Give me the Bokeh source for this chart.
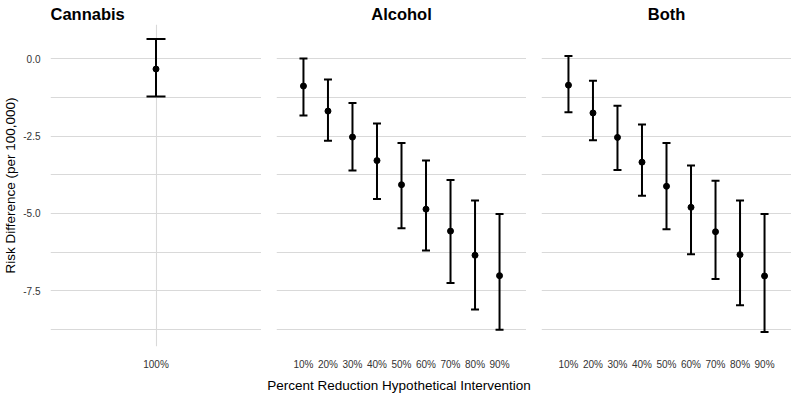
from bokeh.plotting import figure
from bokeh.layouts import row, column
from bokeh.models import (FactorRange, Range1d, FixedTicker, NumeralTickFormatter,
                          Whisker, TeeHead, ColumnDataSource, Div)
from bokeh.embed import file_html
from bokeh.resources import INLINE

# ---------------- data ----------------
cannabis_cats = ["100%"]
cannabis_est = [-0.33]
cannabis_lo = [-1.22]
cannabis_hi = [0.64]

pct_cats = ["10%", "20%", "30%", "40%", "50%", "60%", "70%", "80%", "90%"]
alcohol_est = [-0.88, -1.69, -2.53, -3.29, -4.07, -4.86, -5.57, -6.35, -7.01]
alcohol_lo = [-1.83, -2.65, -3.61, -4.53, -5.48, -6.20, -7.25, -8.10, -8.76]
alcohol_hi = [0.01, -0.67, -1.43, -2.09, -2.72, -3.29, -3.92, -4.58, -5.02]

both_est = [-0.85, -1.75, -2.54, -3.34, -4.12, -4.80, -5.59, -6.33, -7.02]
both_lo = [-1.73, -2.63, -3.59, -4.43, -5.51, -6.32, -7.12, -7.97, -8.83]
both_hi = [0.09, -0.71, -1.52, -2.12, -2.72, -3.45, -3.94, -4.58, -5.02]

y_ticks = [0, -2.5, -5, -7.5]
y_minor = [-1.25, -3.75, -6.25, -8.75]
Y_MIN, Y_MAX = -9.30, 1.11

x_title = "Percent Reduction Hypothetical Intervention"
y_title = "Risk Difference (per 100,000)"

FONT = "Liberation Sans"
GRID = "#d9d9d9"
FRAME_H = 322


def panel(title, cats, est, lo, hi, frame_w, align, cap, show_y,
          border_left, xgrid):
    p = figure(x_range=FactorRange(factors=cats, range_padding=0.6,
                                   range_padding_units="absolute"),
               y_range=Range1d(Y_MIN, Y_MAX),
               frame_width=frame_w, frame_height=FRAME_H,
               output_backend="svg", toolbar_location=None,
               y_axis_location="left" if show_y else None,
               min_border_left=border_left, min_border_right=0,
               min_border_top=0, min_border_bottom=0,
               title=title)
    p.outline_line_color = None
    p.background_fill_color = "white"
    p.border_fill_color = "white"

    p.title.text_font = FONT
    p.title.text_font_size = "16.5px"
    p.title.text_font_style = "bold"
    p.title.text_color = "black"
    p.title.align = align
    p.title.offset = 0
    p.title.standoff = 4

    p.ygrid.ticker = FixedTicker(ticks=y_ticks, minor_ticks=y_minor)
    p.ygrid.grid_line_color = GRID
    p.ygrid.grid_line_width = 1.1
    p.ygrid.minor_grid_line_color = GRID
    p.ygrid.minor_grid_line_width = 1.1
    p.xgrid.grid_line_color = GRID if xgrid else None
    p.xgrid.grid_line_width = 1.1

    p.xaxis.axis_line_color = None
    p.xaxis.major_tick_line_color = None
    p.xaxis.minor_tick_line_color = None
    p.xaxis.major_label_text_font = FONT
    p.xaxis.major_label_text_font_size = "10px"
    p.xaxis.major_label_text_color = "#333333"
    p.xaxis.major_label_standoff = 6

    if show_y:
        p.yaxis.ticker = FixedTicker(ticks=y_ticks)
        p.yaxis.formatter = NumeralTickFormatter(format="0.0")
        p.yaxis.axis_line_color = None
        p.yaxis.major_tick_line_color = None
        p.yaxis.minor_tick_line_color = None
        p.yaxis.major_label_text_font = FONT
        p.yaxis.major_label_text_font_size = "10px"
        p.yaxis.major_label_text_color = "#333333"
        p.yaxis.major_label_standoff = 4
        p.yaxis.axis_label = y_title
        p.yaxis.axis_label_text_font = FONT
        p.yaxis.axis_label_text_font_size = "13.5px"
        p.yaxis.axis_label_text_font_style = "normal"
        p.yaxis.axis_label_text_color = "black"
        p.yaxis.axis_label_standoff = 2

    src = ColumnDataSource(dict(x=cats, est=est, lo=lo, hi=hi))
    w = Whisker(base="x", upper="hi", lower="lo", source=src, dimension="height",
                line_color="black", line_width=2,
                upper_head=TeeHead(size=cap, line_color="black", line_width=2),
                lower_head=TeeHead(size=cap, line_color="black", line_width=2))
    p.add_layout(w)
    p.scatter(x="x", y="est", source=src, size=6, color="black")
    return p


p1 = panel("Cannabis", cannabis_cats, cannabis_est, cannabis_lo, cannabis_hi,
           211, "left", 19, True, 37, True)
p2 = panel("Alcohol", pct_cats, alcohol_est, alcohol_lo, alcohol_hi,
           250, "center", 8, False, 15, False)
p3 = panel("Both", pct_cats, both_est, both_lo, both_hi,
           250, "center", 8, False, 15, False)

xlab = Div(text=x_title, width=784, height=18,
           styles={"text-align": "center", "font-family": FONT,
                   "font-size": "13.5px", "color": "black",
                   "line-height": "18px", "width": "784px",
                   "padding-left": "4px", "box-sizing": "border-box"})

layout = column(row(p1, p2, p3), xlab)
open("out.html", "w").write(file_html(layout, INLINE))
